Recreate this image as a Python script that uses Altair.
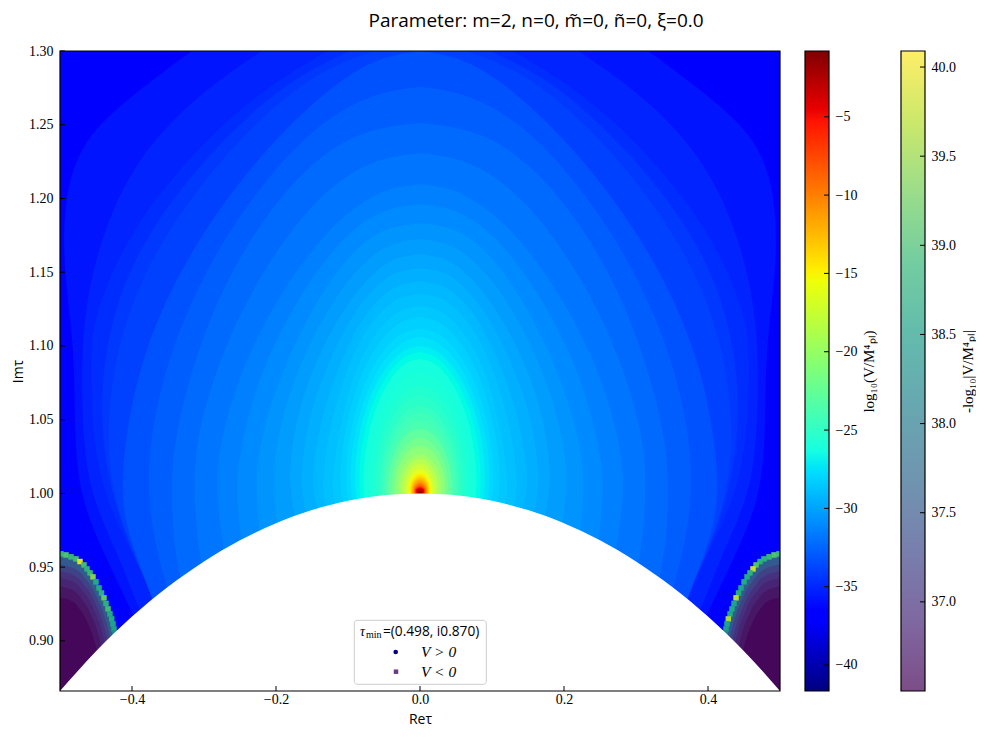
import altair as alt
import pandas as pd

# ---------- contour levels of log10(V/Mpl^4): (Im tau, half width in Re tau)
BASE = [(1.30, .5), (.866, .5)]
L364 = [(1.30,.317),(1.27,.40),(1.24,.47),(1.20,.495),(1.15,.495),(1.10,.48),(1.05,.48),(1.0,.475),(.96,.44),(.92,.40),(.866,.35)]
L362 = [(1.30,.22),(1.27,.31),(1.23,.39),(1.18,.44),(1.12,.47),(1.05,.47),(1.0,.46),(.96,.42),(.92,.39),(.866,.335)]
L36 = [(1.300,.129),(1.273,.222),(1.232,.315),(1.178,.403),(1.126,.449),(1.099,.458),(1.049,.456),(1.008,.444),(.975,.417),(.937,.375),(.866,.319)]
L3575 = [(1.30,.097),(1.28,.185),(1.235,.285),(1.178,.38),(1.115,.435),(1.04,.448),(.975,.415),(.932,.372),(.866,.322)]
L355 = [(1.30,.065),(1.285,.15),(1.24,.255),(1.178,.355),(1.11,.42),(1.03,.44),(.975,.413),(.93,.37),(.866,.326)]
L35 = [(1.300,0),(1.2973,.042),(1.2864,.097),(1.2458,.194),(1.178,.306),(1.0966,.389),(1.0153,.417),(.9746,.410),(.927,.368),(.866,.333)]
L345 = [(1.2756,0),(1.2735,.04),(1.265,.097),(1.235,.18),(1.17,.28),(1.10,.347),(1.03,.38),(.975,.375),(.925,.345),(.866,.312)]
L34 = [(1.2512,0),(1.2491,.042),(1.2424,.097),(1.2186,.167),(1.1644,.25),(1.1034,.306),(1.0424,.340),(1.0017,.347),(.9542,.340),(.9136,.319),(.866,.292)]
L335 = [(1.2308,0),(1.2288,.038),(1.222,.083),(1.20,.146),(1.15,.222),(1.093,.278),(1.04,.31),(1.0017,.316),(.95,.305),(.91,.285),(.866,.26)]
L33 = [(1.2098,0),(1.2078,.035),(1.2017,.069),(1.1814,.125),(1.1373,.194),(1.0831,.25),(1.0356,.278),(1.0017,.285),(.9542,.271),(.9136,.25),(.866,.229)]
L325 = [(1.1963,0),(1.1943,.033),(1.189,.066),(1.17,.115),(1.13,.174),(1.078,.226),(1.03,.25),(1.0017,.257),(.954,.245),(.9136,.222),(.866,.20)]
L32 = [(1.1834,0),(1.1814,.031),(1.1766,.0625),(1.1590,.104),(1.1237,.153),(1.0729,.201),(1.0288,.225),(1.0017,.229),(.9542,.219),(.9136,.194),(.866,.174)]
L315 = [(1.1725,0),(1.1705,.03),(1.166,.055),(1.148,.097),(1.113,.143),(1.068,.184),(1.025,.203),(1.0017,.205),(.96,.193),(.92,.167),(.866,.142)]
L31 = [(1.1624,0),(1.1603,.028),(1.1563,.049),(1.1373,.090),(1.1034,.132),(1.0627,.167),(1.0220,.181),(1.0017,.181),(.9678,.167),(.9271,.139),(.866,.111)]
L305 = [(1.1529,0),(1.151,.026),(1.1475,.045),(1.13,.083),(1.096,.122),(1.056,.153),(1.018,.165),(1.0017,.165),(.97,.152),(.93,.125),(.866,.097)]
L30 = [(1.1441,0),(1.1420,.025),(1.1386,.042),(1.1237,.076),(1.0898,.111),(1.0492,.139),(1.0153,.149),(1.0017,.149),(.9746,.136),(.9339,.111),(.866,.083)]
L295 = [(1.1353,0),(1.1335,.023),(1.1305,.038),(1.115,.072),(1.083,.104),(1.042,.127),(1.012,.135),(.998,.135),(.97,.12),(.866,.07)]
L29 = [(1.1271,0),(1.1251,.021),(1.1224,.035),(1.1068,.067),(1.0763,.097),(1.0356,.115),(1.0085,.122),(.9949,.121),(.9678,.104),(.866,.056)]
L285 = [(1.1197,0),(1.118,.018),(1.115,.031),(1.102,.06),(1.074,.089),(1.037,.107),(1.0017,.114),(.9678,.094)]
L28 = [(1.1115,0),(1.1104,.015),(1.1078,.028),(1.0973,.053),(1.0722,.081),(1.0390,.099),(1.0017,.106),(.9678,.083)]
L275 = [(1.1061,0),(1.1048,.014),(1.1022,.026),(1.092,.05),(1.068,.076),(1.037,.094),(1.0017,.0995),(.9678,.08)]
L27 = [(1.1000,0),(1.0990,.013),(1.0966,.024),(1.0871,.047),(1.0647,.072),(1.0349,.088),(1.0017,.093),(.9678,.076)]
L265 = [(1.0959,0),(1.0947,.012),(1.0925,.0225),(1.0834,.0435),(1.062,.067),(1.0335,.082),(1.0017,.087),(.9678,.071)]
L26 = [(1.0912,0),(1.0903,.011),(1.0881,.021),(1.0797,.040),(1.0590,.062),(1.0322,.076),(1.0017,.081),(.9678,.067)]
L255 = [(1.0824,0),(1.0813,.01),(1.0793,.019),(1.0717,.0365),(1.053,.0565),(1.029,.0695),(1.0017,.074),(.975,.061)]
L25 = [(1.0729,0),(1.0722,.009),(1.0705,.017),(1.0637,.033),(1.0472,.051),(1.0259,.063),(1.0017,.067),(.9814,.056)]
L245 = [(1.0661,0),(1.0655,.0085),(1.064,.016),(1.0578,.0305),(1.0429,.0475),(1.0236,.058),(1.0017,.062),(.9814,.0515)]
L24 = [(1.0593,0),(1.0587,.008),(1.0574,.015),(1.0519,.028),(1.0386,.044),(1.0213,.053),(1.0017,.057),(.9814,.047)]
L235 = [(1.0546,0),(1.054,.0075),(1.0528,.014),(1.0475,.0265),(1.0354,.041),(1.0197,.05),(1.0017,.0535),(.9814,.0445)]
L23 = [(1.0492,0),(1.0487,.007),(1.0475,.013),(1.0431,.025),(1.0322,.038),(1.0180,.047),(1.0017,.05),(.9814,.042)]
L22 = [(1.0437,0),(1.0433,.006),(1.0424,.012),(1.0383,.023),(1.0288,.035),(1.0159,.043),(1.0017,.046),(.9814,.038)]
L21 = [(1.0376,0),(1.0373,.006),(1.0364,.010),(1.0329,.020),(1.0247,.031),(1.0139,.038),(1.0017,.040),(.9881,.033)]
L20 = [(1.0322,0),(1.0319,.005),(1.0312,.009),(1.0281,.018),(1.0214,.028),(1.0119,.034),(1.0017,.036),(.9881,.029)]
L19 = [(1.0268,0),(1.0265,.0043),(1.0259,.008),(1.0234,.015),(1.0180,.024),(1.0105,.029),(1.0017,.031),(.9915,.025)]
L18 = [(1.0234,0),(1.0232,.0037),(1.0227,.0069),(1.0207,.013),(1.0156,.020),(1.0092,.025),(1.0017,.026),(.9915,.021)]
L17 = [(1.0200,0),(1.0198,.0031),(1.0193,.0058),(1.0176,.011),(1.0134,.017),(1.0078,.021),(1.0017,.022),(.9915,.018)]
L16 = [(1.0166,0),(1.0165,.0025),(1.0161,.0047),(1.0146,.009),(1.0112,.014),(1.0068,.017),(1.0017,.018),(.9915,.015)]
L15 = [(1.0139,0),(1.0135,.004),(1.0123,.0076),(1.0095,.0118),(1.0058,.0143),(1.0017,.0153),(.9915,.0125)]
L14 = [(1.0125,0),(1.0121,.0036),(1.0111,.0069),(1.0086,.0107),(1.0054,.0131),(1.0017,.0139),(.9915,.0111)]
L13 = [(1.0112,0),(1.0109,.0033),(1.0100,.0063),(1.0078,.0096),(1.0049,.0118),(1.0017,.0125),(.9915,.0100)]
L12 = [(1.0102,0),(1.0099,.0031),(1.0091,.0059),(1.0071,.0091),(1.0046,.0111),(1.0017,.0118),(.9915,.0094)]
L11 = [(1.0092,0),(1.0089,.0029),(1.0082,.0056),(1.0065,.0085),(1.0043,.0104),(1.0017,.0111),(.9915,.0089)]
L10 = [(1.0081,0),(1.0079,.0025),(1.0073,.0049),(1.0058,.0075),(1.0039,.0091),(1.0017,.0097),(.9915,.0078)]
L9 = [(1.0071,0),(1.0069,.0023),(1.0064,.0045),(1.0052,.0069),(1.0035,.0085),(1.0017,.009),(.9915,.0072)]
L8 = [(1.0064,0),(1.0062,.0022),(1.0058,.0042),(1.0047,.0064),(1.0033,.0078),(1.0017,.0083),(.9915,.0066)]
L7 = [(1.0054,0),(1.0053,.002),(1.0049,.0038),(1.0041,.0059),(1.0030,.0071),(1.0017,.0076),(.9915,.0061)]
L6 = [(1.0047,0),(1.0046,.0018),(1.0043,.0035),(1.0036,.0053),(1.0027,.0065),(1.0017,.0069),(.9915,.0055)]
L5 = [(1.0041,0),(1.0040,.0016),(1.0038,.0031),(1.0032,.0048),(1.0025,.0059),(1.0017,.0063),(.9970,.004)]
L4 = [(1.0034,0),(1.0033,.0014),(1.0032,.0026),(1.0028,.0041),(1.0023,.005),(1.0017,.0053),(.9990,.0035)]
L3 = [(1.0027,0),(1.0026,.0022),(1.0023,.0034),(1.0020,.0041),(1.0015,.0044),(.9990,.003)]
L2 = [(1.0020,0),(1.0018,.0015),(1.0014,.0028),(1.0007,.0035),(.9995,.002)]
L1 = [(1.0014,0),(1.0012,.0008),(1.0009,.0016),(1.0005,.0021),(.9995,.001)]

LEVELS = [(-37, BASE), (-36.4, L364), (-36.2, L362), (-36, L36), (-35.75, L3575), (-35.5, L355), (-35, L35), (-34.5, L345),
          (-34, L34), (-33.5, L335), (-33, L33),
          (-32.5, L325), (-32, L32), (-31.5, L315), (-31, L31), (-30.5, L305), (-30, L30), (-29.5, L295),
          (-29, L29), (-28.5, L285), (-28, L28), (-27.5, L275), (-27, L27), (-26.5, L265), (-26, L26), (-25.5, L255),
          (-25, L25), (-24.5, L245), (-24, L24), (-23.5, L235), (-23, L23), (-22, L22),
          (-21, L21), (-20, L20), (-19, L19), (-18, L18), (-17, L17), (-16, L16), (-15, L15), (-14, L14),
          (-13, L13), (-12, L12), (-11, L11), (-10, L10), (-9, L9), (-8, L8), (-7, L7), (-6, L6),
          (-5, L5), (-4, L4), (-3, L3), (-2, L2), (-1, L1)]

# jet colour map for the potential, value stops and colours
JET_VALUES = [-41.66, -37.17, -36.55, -27.77, -27.36, -26.34, -15.51, -15.10, -14.69, -5.29, -4.48, -0.8]
JET_COLORS = ["#000080", "#0000ff", "#0000ff", "#00dbff", "#00e6f7", "#15ffe2", "#efff08", "#f7f600", "#ffec00", "#ff1300", "#e80000", "#800000"]
JET_OFFSETS = [0, .11, .125, .34, .35, .375, .64, .65, .66, .89, .91, 1]
VIRIDIS_COLORS = ["#440154", "#482878", "#3e4989", "#31688e", "#26828e", "#1f9e89", "#35b779", "#6ece58", "#b5de2b", "#fde725"]

# negative potential region in the corners: (Im tau, distance from the plot edge in Re tau)
CORNER_377 = [(.9595,0),(.9567,.0199),(.9473,.0407),(.9315,.0589),(.9128,.0722),(.8941,.0789),(.866,.083)]
CORNER_375 = [(.9567,0),(.9540,.0193),(.9449,.0394),(.9295,.0572),(.9114,.0700),(.8932,.0765),(.866,.0805)]
CORNER_372 = [(.9520,0),(.9494,.0183),(.9408,.0374),(.9262,.0542),(.9090,.0665),(.8918,.0726),(.866,.0764)]
CORNER_370 = [(.9473,0),(.9449,.0173),(.9367,.0354),(.9229,.0513),(.9067,.0628),(.8904,.0686),(.866,.0722)]
CORNER_3685 = [(.9427,0),(.9404,.0163),(.9327,.0334),(.9197,.0484),(.9044,.0592),(.8890,.0647),(.866,.0681)]
CORNER_367 = [(.9371,0),(.9350,.0151),(.9279,.0309),(.9158,.0448),(.9016,.0549),(.8873,.0599),(.866,.0631)]
CORNER_3655 = [(.9296,0),(.9277,.0135),(.9213,.0276),(.9105,.0400),(.8978,.0491),(.8851,.0536),(.866,.0564)]
CORNERS = [(37.7, CORNER_377), (37.5, CORNER_375), (37.2, CORNER_372), (37.0, CORNER_370), (36.85, CORNER_3685), (36.7, CORNER_367), (36.55, CORNER_3655)]

# bright points along the rim of the corners
RIM_RE = [-.4986,-.4917,-.4847,-.4778,-.4722,-.4667,-.4625,-.4583,-.4542,-.45,-.4458,-.4424,-.4389,-.4361,-.4333,-.4306,-.4282,-.4264,-.4250,-.4236]
RIM_IM = [.9590,.9583,.9570,.9556,.9538,.9515,.9488,.9461,.9434,.9400,.9359,.9325,.9292,.9254,.9217,.9183,.9149,.9115,.9081,.9054]
RIM_LEFT = [38.9,39.1,38.9,39.0,39.9,39.0,38.8,38.9,39.4,38.7,38.7,38.8,39.2,38.8,39.0,38.7,38.7,38.6,38.5,38.3]
RIM_RIGHT = [39.0,39.1,38.9,38.8,38.8,39.1,39.8,38.8,38.7,38.7,38.6,38.7,39.7,38.6,38.7,38.7,39.6,38.6,38.5,38.3]

# boundary of the fundamental domain
ARC_RE = [-.5,-.45,-.4,-.35,-.3,-.25,-.2,-.15,-.1,-.05,0,.05,.1,.15,.2,.25,.3,.35,.4,.45,.5]
ARC_IM = [.8660,.8930,.9165,.9367,.9539,.9682,.9798,.9887,.9950,.9987,1.0,.9987,.9950,.9887,.9798,.9682,.9539,.9367,.9165,.8930,.8660]

X_TICKS = [-.4, -.2, 0, .2, .4]
Y_TICKS = [.90, .95, 1.00, 1.05, 1.10, 1.15, 1.20, 1.25, 1.30]
CB1_TICKS = [-40, -35, -30, -25, -20, -15, -10, -5]
CB2_TICKS = [37.0, 37.5, 38.0, 38.5, 39.0, 39.5, 40.0]

SERIF = "Liberation Serif"
SANS = "Open Sans"
W, H = 720, 640
ONE = alt.Data(values=[{"a": 0}])
x_dom = alt.Scale(domain=[-.5, .5], nice=False, zero=False)
y_dom = alt.Scale(domain=[.866, 1.30], nice=False, zero=False)

def frame(w, h):
    return alt.Chart(ONE).mark_rect(fillOpacity=0, stroke="black", strokeWidth=1.2).encode(
        x=alt.value(0), x2=alt.value(w), y=alt.value(0), y2=alt.value(h))

field_df = pd.DataFrame([{"level": lv, "im": im, "xl": -w, "xr": w} for lv, rows in LEVELS for im, w in rows])
field = alt.Chart(field_df).mark_area(orient="horizontal", interpolate="basis", clip=True).encode(
    x=alt.X("xl:Q", scale=x_dom, stack=None,
            axis=alt.Axis(values=X_TICKS, ticks=False, domain=False, grid=False, labelFont=SERIF, labelFontSize=14,
                          labelColor="black", labelPadding=1, format=".1f", title="Reτ", titleFont=SANS,
                          titleFontSize=14, titleFontWeight="normal", titleColor="black", titlePadding=6)),
    x2="xr:Q",
    y=alt.Y("im:Q", scale=y_dom,
            axis=alt.Axis(values=Y_TICKS, ticks=False, domain=False, grid=False, labelFont=SERIF, labelFontSize=14,
                          labelColor="black", labelPadding=7, format=".2f", title="Imτ", titleFont=SANS,
                          titleFontSize=14, titleFontWeight="normal", titleColor="black", titlePadding=3)),
    color=alt.Color("level:Q", scale=alt.Scale(domain=JET_VALUES, range=JET_COLORS), legend=None),
    detail="level:N",
)

corner_rows = []
for i, (v, rows) in enumerate(CORNERS):
    for im, d in rows:
        corner_rows.append({"v": v, "g": f"L{i}", "im": im, "a": -.5, "b": -.5 + d})
        corner_rows.append({"v": v, "g": f"R{i}", "im": im, "a": .5 - d, "b": .5})
corner = alt.Chart(pd.DataFrame(corner_rows)).mark_area(orient="horizontal", interpolate="monotone", clip=True).encode(
    x=alt.X("a:Q", scale=x_dom, stack=None), x2="b:Q", y=alt.Y("im:Q", scale=y_dom),
    color=alt.Color("v:Q", scale=alt.Scale(domain=[36.5, 40.1], range=VIRIDIS_COLORS), legend=None),
    detail="g:N",
)
rim_df = pd.DataFrame({"re": RIM_RE + [-r for r in RIM_RE], "im": RIM_IM + RIM_IM, "v": RIM_LEFT + RIM_RIGHT})
rim = alt.Chart(rim_df).mark_square(size=30, opacity=1, clip=True).encode(
    x=alt.X("re:Q", scale=x_dom), y=alt.Y("im:Q", scale=y_dom),
    color=alt.Color("v:Q", scale=alt.Scale(domain=[36.5, 40.1], range=VIRIDIS_COLORS), legend=None),
)
mask = alt.Chart(pd.DataFrame({"re": ARC_RE, "im": ARC_IM, "lo": [.866] * len(ARC_RE)})).mark_area(
    color="white", interpolate="monotone", clip=True).encode(
    x=alt.X("re:Q", scale=x_dom), y=alt.Y("im:Q", scale=y_dom, stack=None), y2="lo:Q")

xt = alt.Chart(pd.DataFrame({"t": X_TICKS})).mark_rule(color="black", strokeWidth=1).encode(
    x=alt.X("t:Q", scale=x_dom), y=alt.value(H - 5), y2=alt.value(H))
yt = alt.Chart(pd.DataFrame({"t": Y_TICKS})).mark_rule(color="black", strokeWidth=1).encode(
    y=alt.Y("t:Q", scale=y_dom), x=alt.value(0), x2=alt.value(5))

def txt(x, y, s, font=SERIF, size=13.5, style="normal", align="left"):
    return alt.Chart(ONE).mark_text(font=font, fontSize=size, fontStyle=style, align=align, baseline="middle", color="black").encode(
        x=alt.value(x), y=alt.value(y), text=alt.value(s))

legend_box = alt.Chart(ONE).mark_rect(fill="white", fillOpacity=.8, stroke="#cccccc", strokeWidth=1, cornerRadius=3).encode(
    x=alt.value(294.3), x2=alt.value(426.3), y=alt.value(569.3), y2=alt.value(633.3))
dot = alt.Chart(ONE).mark_point(shape="circle", filled=True, size=22, color="#00008b", opacity=1).encode(x=alt.value(335.7), y=alt.value(601))
sq = alt.Chart(ONE).mark_point(shape="square", filled=True, size=20, color="#6b3a83", opacity=1).encode(x=alt.value(336), y=alt.value(620.7))

main = alt.layer(
    field, corner, rim, mask, xt, yt, frame(W, H), legend_box,
    txt(300, 581, "τ", style="italic", size=14), txt(306, 584, "min", size=10),
    txt(323, 581, "=(0.498, i0.870)", font=SANS, size=13.7),
    dot, sq, txt(361, 601, "V > 0", style="italic", size=15.5), txt(361, 620.5, "V < 0", style="italic", size=15.5),
).resolve_scale(color="independent").properties(width=W, height=H)

CB_W = 24
def colorbar(domain, ticks, fmt, title, gradient, opacity):
    y_scale = alt.Scale(domain=domain, nice=False, zero=False)
    bar = alt.Chart(ONE).mark_rect(fill=gradient, opacity=opacity).encode(
        x=alt.value(0), x2=alt.value(CB_W), y=alt.value(0), y2=alt.value(H))
    tk = alt.Chart(pd.DataFrame({"t": ticks})).mark_rule(color="black", strokeWidth=1).encode(
        y=alt.Y("t:Q", scale=y_scale,
                axis=alt.Axis(orient="right", values=ticks, ticks=False, domain=False, grid=False, format=fmt,
                              labelFont=SERIF, labelFontSize=14, labelColor="black", labelPadding=6, title=title,
                              titleFont=SERIF, titleFontSize=15, titleFontWeight="normal", titleColor="black",
                              titleAngle=270, titlePadding=20)),
        x=alt.value(CB_W - 5), x2=alt.value(CB_W))
    return alt.layer(bar, tk, frame(CB_W, H)).properties(width=CB_W, height=H)

jet_grad = alt.Gradient(gradient="linear", x1=0, x2=0, y1=1, y2=0,
                        stops=[alt.GradientStop(color=c, offset=o) for c, o in zip(JET_COLORS, JET_OFFSETS)])
vir_grad = alt.Gradient(gradient="linear", x1=0, x2=0, y1=1, y2=0,
                        stops=[alt.GradientStop(color=c, offset=i / 9) for i, c in enumerate(VIRIDIS_COLORS)])
cb1 = colorbar([-41.66, -0.8], CB1_TICKS, "d", "log₁₀(V/M⁴ₚₗ)", jet_grad, 1)
cb2 = colorbar([36.5, 40.09], CB2_TICKS, ".1f", "-log₁₀|V/M⁴ₚₗ|", vir_grad, .7)

chart = alt.hconcat(alt.hconcat(main, cb1, spacing=23), cb2, spacing=23).properties(
    title=alt.TitleParams("Parameter:  m=2, n=0, m̃=0, ñ=0, ξ=0.0", font=SANS, fontSize=19, fontWeight="normal",
                          color="black", anchor="start", dx=357, offset=13),
    padding={"left": 3, "top": 4, "right": 0, "bottom": 0},
).configure_view(stroke=None)
chart.save("out.html", embed_options={"renderer": "svg", "actions": False})
